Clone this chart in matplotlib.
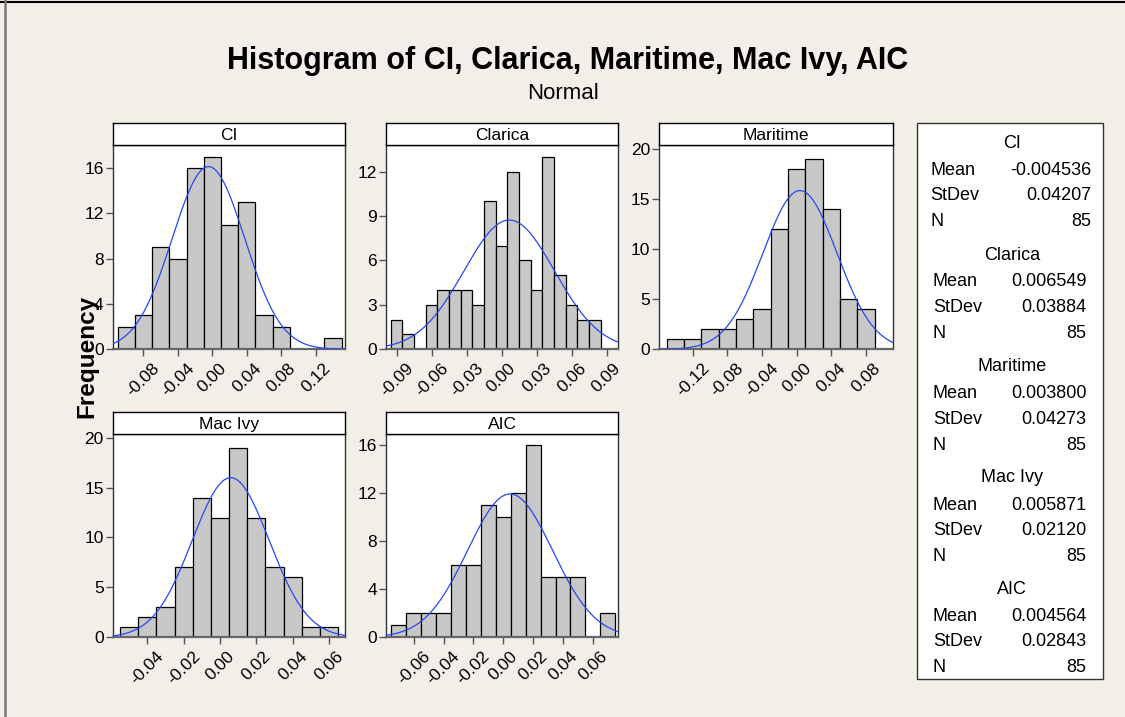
import matplotlib
matplotlib.use("Agg")
import matplotlib.pyplot as plt
from matplotlib.lines import Line2D
from matplotlib.patches import Rectangle
import numpy as np

plt.rcParams['font.family'] = ['Liberation Sans', 'DejaVu Sans']

# ---------------- data ----------------
names = ["CI", "Clarica", "Maritime", "Mac Ivy", "AIC"]

ci_mids = [-0.10, -0.08, -0.06, -0.04, -0.02, 0.00, 0.02, 0.04, 0.06, 0.08, 0.10, 0.12, 0.14]
ci_counts = [2, 3, 9, 8, 16, 17, 11, 13, 3, 2, 0, 0, 1]

clarica_mids = [-0.09, -0.08, -0.07, -0.06, -0.05, -0.04, -0.03, -0.02, -0.01,
                0.00, 0.01, 0.02, 0.03, 0.04, 0.05, 0.06, 0.07, 0.08]
clarica_counts = [2, 1, 0, 3, 4, 4, 4, 3, 10, 7, 12, 6, 4, 13, 5, 3, 2, 2]

maritime_mids = [-0.14, -0.12, -0.10, -0.08, -0.06, -0.04, -0.02, 0.00, 0.02, 0.04, 0.06, 0.08]
maritime_counts = [1, 1, 2, 2, 3, 4, 12, 18, 19, 14, 5, 4]

macivy_mids = [-0.05, -0.04, -0.03, -0.02, -0.01, 0.00, 0.01, 0.02, 0.03, 0.04, 0.05, 0.06]
macivy_counts = [1, 2, 3, 7, 14, 12, 19, 12, 7, 6, 1, 1]

aic_mids = [-0.07, -0.06, -0.05, -0.04, -0.03, -0.02, -0.01, 0.00,
            0.01, 0.02, 0.03, 0.04, 0.05, 0.06, 0.07]
aic_counts = [1, 2, 2, 2, 6, 6, 11, 10, 12, 16, 5, 5, 5, 0, 2]

bin_widths = [0.02, 0.01, 0.02, 0.01, 0.01]

means = [-0.004536, 0.006549, 0.003800, 0.005871, 0.004564]
stdevs = [0.04207, 0.03884, 0.04273, 0.02120, 0.02843]
ns = [85, 85, 85, 85, 85]
mean_labels = ["-0.004536", "0.006549", "0.003800", "0.005871", "0.004564"]
stdev_labels = ["0.04207", "0.03884", "0.04273", "0.02120", "0.02843"]

ci_xticks = [-0.08, -0.04, 0.00, 0.04, 0.08, 0.12]
clarica_xticks = [-0.09, -0.06, -0.03, 0.00, 0.03, 0.06, 0.09]
maritime_xticks = [-0.12, -0.08, -0.04, 0.00, 0.04, 0.08]
macivy_xticks = [-0.04, -0.02, 0.00, 0.02, 0.04, 0.06]
aic_xticks = [-0.06, -0.04, -0.02, 0.00, 0.02, 0.04, 0.06]

ci_yticks = [0, 4, 8, 12, 16]
clarica_yticks = [0, 3, 6, 9, 12]
maritime_yticks = [0, 5, 10, 15, 20]
macivy_yticks = [0, 5, 10, 15, 20]
aic_yticks = [0, 4, 8, 12, 16]

# ---------------- layout ----------------
W, H = 1125, 717
BG = "#F3EFE8"
fig = plt.figure(figsize=(W / 100, H / 100), dpi=100, facecolor=BG)


def rect(x0, y0, x1, y1):
    return [x0 / W, 1 - y1 / H, (x1 - x0) / W, (y1 - y0) / H]


# (x0, x1, header_top, header_bottom, bottom), xlim, ylim
layout = [
    ((112.7, 345.0, 123.3, 145.0, 349.3), (-0.1156, 0.1538), (0, 18.03)),
    ((386.0, 618.3, 123.3, 145.0, 349.3), (-0.0991, 0.1000), (0, 13.8)),
    ((659.3, 892.7, 123.3, 145.0, 349.3), (-0.1585, 0.1108), (0, 20.43)),
    ((112.7, 345.0, 411.7, 433.7, 637.3), (-0.0591, 0.0688), (0, 20.4)),
    ((386.0, 618.3, 411.7, 433.7, 637.3), (-0.0785, 0.0770), (0, 16.94)),
]

all_mids = [ci_mids, clarica_mids, maritime_mids, macivy_mids, aic_mids]
all_counts = [ci_counts, clarica_counts, maritime_counts, macivy_counts, aic_counts]
all_xticks = [ci_xticks, clarica_xticks, maritime_xticks, macivy_xticks, aic_xticks]
all_yticks = [ci_yticks, clarica_yticks, maritime_yticks, macivy_yticks, aic_yticks]

SPINE = "#333333"
for i in range(5):
    (x0, x1, ht, hb, bot), xlim, ylim = layout[i]
    ax = fig.add_axes(rect(x0, hb, x1, bot))
    ax.set_facecolor("white")
    w = bin_widths[i]
    ax.bar(all_mids[i], all_counts[i], width=w, color="#C8C8C8",
           edgecolor="black", linewidth=0.9, zorder=2)
    xs = np.linspace(xlim[0], xlim[1], 400)
    m, s, n = means[i], stdevs[i], ns[i]
    ys = n * w * np.exp(-0.5 * ((xs - m) / s) ** 2) / (s * np.sqrt(2 * np.pi))
    ax.plot(xs, ys, color="#2747F0", lw=0.9, zorder=3)
    ax.set_xlim(*xlim)
    ax.set_ylim(*ylim)
    ax.set_xticks(all_xticks[i])
    ax.set_xticklabels([f"{t:.2f}" for t in all_xticks[i]], rotation=45, ha="center",
                       fontsize=12.5)
    ax.set_yticks(all_yticks[i])
    ax.set_yticklabels([str(t) for t in all_yticks[i]], fontsize=12.5)
    ax.tick_params(axis="both", direction="out", length=5, width=1, color="#555555")
    ax.tick_params(axis="x", pad=3)
    ax.tick_params(axis="y", pad=1.5)
    for sp in ax.spines.values():
        sp.set_color(SPINE)
        sp.set_linewidth(1.0)
    ax.spines["bottom"].set_color("#666666")
    ax.spines["bottom"].set_linewidth(1.6)

    hax = fig.add_axes(rect(x0, ht, x1, hb))
    hax.set_facecolor("white")
    hax.set_xticks([])
    hax.set_yticks([])
    for sp in hax.spines.values():
        sp.set_color("black")
        sp.set_linewidth(1.0)
    hax.text(0.5, 0.42, names[i], ha="center", va="center", fontsize=12.5,
             transform=hax.transAxes)

# ---------------- titles ----------------
fig.text(567.5 / W, 1 - 69.3 / H, "Histogram of CI, Clarica, Maritime, Mac Ivy, AIC",
         ha="center", va="baseline", fontsize=22, fontweight="bold")
fig.text(562.6 / W, 1 - 99.3 / H, "Normal", ha="center", va="baseline", fontsize=16)
fig.text(93.3 / W, 1 - 356 / H, "Frequency", rotation=90, rotation_mode="anchor",
         ha="center", va="baseline", fontsize=17.5, fontweight="bold")

# ---------------- stats box ----------------
box = Rectangle((917.3 / W, 1 - 679 / H), (1103.3 - 917.3) / W, (679 - 122.7) / H,
                transform=fig.transFigure, facecolor="white", edgecolor="#333333",
                lw=1.0, zorder=1)
fig.add_artist(box)
for i in range(5):
    yg = 143.5 + 111.5 * i
    lx = 930.5 if i == 0 else 933
    rx = 1091.7 if i == 0 else 1086.7
    fig.text(1012 / W, 1 - yg / H, names[i], ha="center", va="center", fontsize=13)
    rows = [("Mean", mean_labels[i]), ("StDev", stdev_labels[i]), ("N", str(ns[i]))]
    for (lab, val), dy in zip(rows, [27, 52.5, 78.5]):
        fig.text(lx / W, 1 - (yg + dy) / H, lab, ha="left", va="center", fontsize=13)
        fig.text(rx / W, 1 - (yg + dy) / H, val, ha="right", va="center", fontsize=13)

# ---------------- frame lines ----------------
fig.add_artist(Line2D([0, 1], [1 - 1.5 / H] * 2, color="black", lw=1.5,
                      transform=fig.transFigure))
fig.add_artist(Line2D([4.8 / W] * 2, [0, 1], color="#777777", lw=1.8,
                      transform=fig.transFigure))

fig.savefig("out.png", dpi=100, facecolor=BG)
